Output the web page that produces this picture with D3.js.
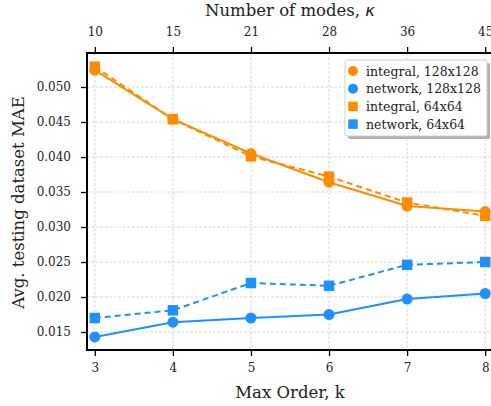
<!DOCTYPE html>
<html>
<head>
<meta charset="utf-8">
<script src="https://cdn.jsdelivr.net/npm/d3@7"></script>
<style>
  body { margin: 0; background: #fff; }
  text { font-family: "DejaVu Serif", serif; fill: #222; }
</style>
</head>
<body>
<div id="chart"></div>
<script>
const orders = [3, 4, 5, 6, 7, 8];
const modes = [10, 15, 21, 28, 36, 45];
const yTicks = [0.015, 0.020, 0.025, 0.030, 0.035, 0.040, 0.045, 0.050];

const integral128 = [0.0524, 0.0454, 0.0405, 0.0364, 0.0330, 0.0322];
const network128 = [0.0143, 0.0164, 0.0170, 0.0175, 0.0197, 0.0205];
const integral64 = [0.0529, 0.0454, 0.0401, 0.0372, 0.0335, 0.0316];
const network64 = [0.0170, 0.0181, 0.0220, 0.0216, 0.0246, 0.0250];

const seriesList = [
  { name: 'integral, 128x128', values: integral128, color: '#ff8c00', marker: 'circle', dash: null },
  { name: 'network, 128x128', values: network128, color: '#1e90ff', marker: 'circle', dash: null },
  { name: 'integral, 64x64', values: integral64, color: '#ff8c00', marker: 'square', dash: '6,4' },
  { name: 'network, 64x64', values: network64, color: '#1e90ff', marker: 'square', dash: '6,4' },
];

const width = 491;
const height = 406;
const margin = { left: 87, right: -2, top: 53, bottom: 56 };

const svg = d3.select('#chart')
  .append('svg')
  .attr('width', width)
  .attr('height', height);

const x = d3.scaleLinear()
  .domain([2.9, 8.1])
  .range([margin.left, width - margin.right]);

const y = d3.scaleLinear()
  .domain([0.01243, 0.05486])
  .range([height - margin.bottom, margin.top]);

// grid
const grid = svg.append('g');
grid.selectAll('line.vg')
  .data(orders)
  .enter()
  .append('line')
  .attr('x1', d => x(d)).attr('x2', d => x(d))
  .attr('y1', margin.top).attr('y2', height - margin.bottom)
  .attr('stroke', '#c8c8c8')
  .attr('stroke-width', 0.8)
  .attr('stroke-dasharray', '2.5,2');
grid.selectAll('line.hg')
  .data(yTicks)
  .enter()
  .append('line')
  .attr('x1', margin.left).attr('x2', width - margin.right)
  .attr('y1', d => y(d)).attr('y2', d => y(d))
  .attr('stroke', '#c8c8c8')
  .attr('stroke-width', 0.8)
  .attr('stroke-dasharray', '2.5,2');

// axes
const xAxis = svg.append('g')
  .attr('transform', `translate(0, ${height - margin.bottom})`)
  .call(d3.axisBottom(x).tickValues(orders).tickFormat(d3.format('d')).tickSize(6).tickPadding(7));

const topScale = d3.scalePoint().domain(modes).range([x(3), x(8)]);
const xTop = svg.append('g')
  .attr('transform', `translate(0, ${margin.top})`)
  .call(d3.axisTop(topScale).tickSize(6).tickPadding(11));

const yAxis = svg.append('g')
  .attr('transform', `translate(${margin.left}, 0)`)
  .call(d3.axisLeft(y).tickValues(yTicks).tickFormat(d3.format('.3f')).tickSize(6).tickPadding(10));

[xAxis, xTop, yAxis].forEach(g => {
  g.select('.domain').remove();
  g.selectAll('.tick line').attr('stroke', '#000').attr('stroke-width', 1.3);
  g.selectAll('.tick text')
    .style('font-family', '"DejaVu Serif", serif')
    .style('font-size', '12px')
    .attr('fill', '#222');
});

// spines
svg.append('rect')
  .attr('x', margin.left)
  .attr('y', margin.top)
  .attr('width', width - margin.right - margin.left)
  .attr('height', height - margin.bottom - margin.top)
  .attr('fill', 'none')
  .attr('stroke', '#000')
  .attr('stroke-width', 2);

// series
const line = d3.line()
  .x((d, i) => x(orders[i]))
  .y(d => y(d));

function drawMarker(g, type, color, size) {
  if (type === 'circle') {
    return g.append('circle').attr('r', size / 2).attr('fill', color);
  }
  return g.append('rect')
    .attr('x', -size / 2).attr('y', -size / 2)
    .attr('width', size).attr('height', size)
    .attr('fill', color);
}

seriesList.forEach(s => {
  svg.append('path')
    .datum(s.values)
    .attr('d', line)
    .attr('fill', 'none')
    .attr('stroke', s.color)
    .attr('stroke-width', 2)
    .attr('stroke-dasharray', s.dash);

  s.values.forEach((v, i) => {
    const g = svg.append('g').attr('transform', `translate(${x(orders[i])}, ${y(v)})`);
    drawMarker(g, s.marker, s.color, s.marker === 'circle' ? 11 : 10.5);
  });
});

// labels
svg.append('text')
  .attr('x', x(5.5))
  .attr('y', 398)
  .attr('text-anchor', 'middle')
  .style('font-size', '16.5px')
  .text('Max Order, k');

const topLabel = svg.append('text')
  .attr('x', x(5.5))
  .attr('y', 16)
  .attr('text-anchor', 'middle')
  .style('font-size', '16.5px');
topLabel.append('tspan').text('Number of modes, ');
topLabel.append('tspan').style('font-style', 'italic').style('font-family', '"DejaVu Sans", sans-serif').text('κ');

svg.append('text')
  .attr('transform', `translate(24, ${y(0.0335)}) rotate(-90)`)
  .attr('text-anchor', 'middle')
  .style('font-size', '16.5px')
  .text('Avg. testing dataset MAE');

// legend
const legend = svg.append('g').attr('transform', 'translate(345, 60)');
legend.append('rect')
  .attr('x', 3).attr('y', 3)
  .attr('width', 142).attr('height', 76)
  .attr('rx', 2)
  .attr('fill', '#b0b0b0');
legend.append('rect')
  .attr('width', 142).attr('height', 76)
  .attr('rx', 2)
  .attr('fill', '#fff')
  .attr('stroke', '#d0d0d0')
  .attr('stroke-width', 1);

seriesList.forEach((s, i) => {
  const row = legend.append('g').attr('transform', `translate(0, ${11 + i * 17.7})`);
  const m = row.append('g').attr('transform', 'translate(8, 0)');
  drawMarker(m, s.marker, s.color, s.marker === 'circle' ? 10 : 9.5);
  row.append('text')
    .attr('x', 21)
    .attr('y', 4.5)
    .style('font-size', '12.5px')
    .text(s.name);
});
</script>
</body>
</html>
